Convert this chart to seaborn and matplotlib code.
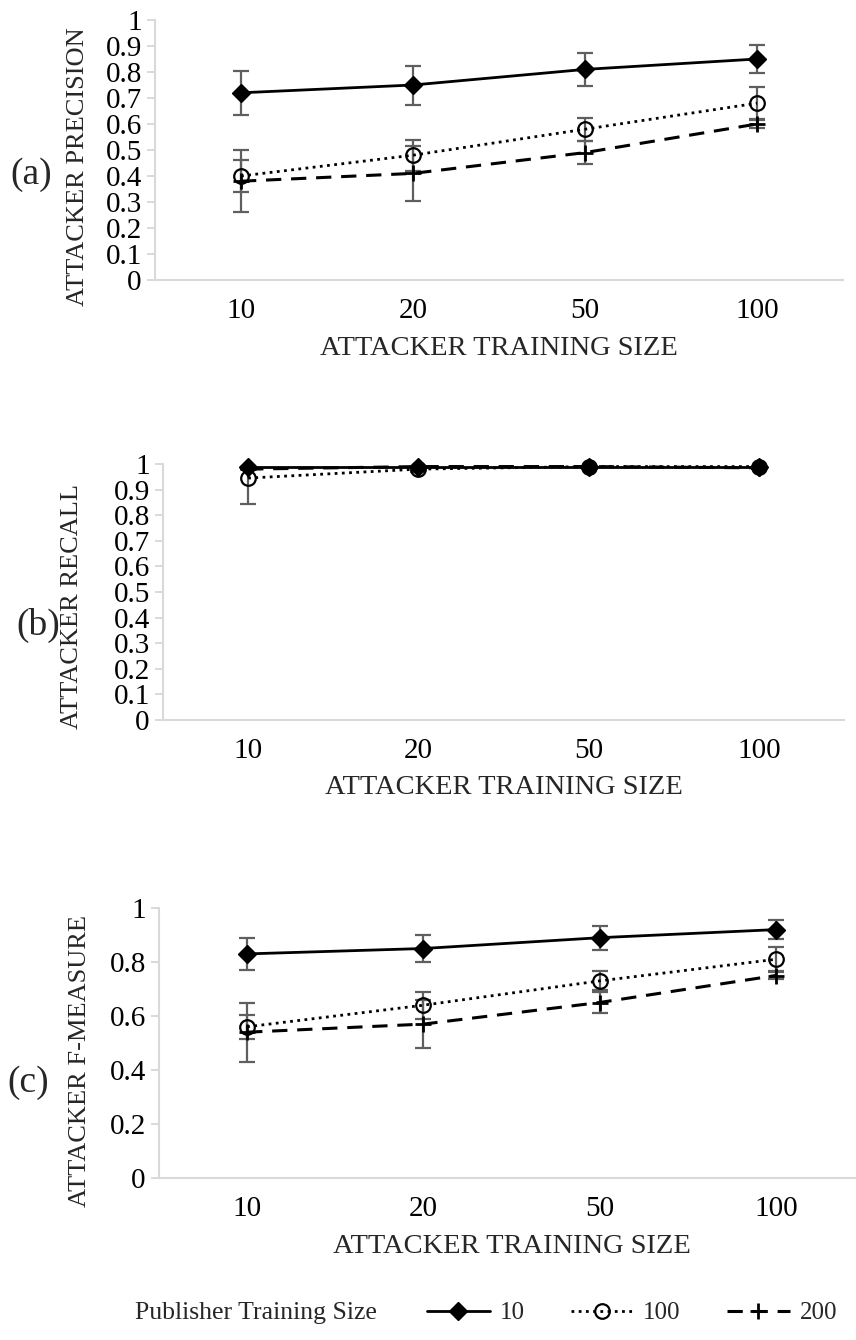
import numpy as np
import pandas as pd
import matplotlib
matplotlib.use("Agg")
import matplotlib.pyplot as plt
import seaborn as sns

# Attacker training sizes (x categories) and publisher training sizes (series)
training_sizes = ["10", "20", "50", "100"]
publisher_sizes = ["10", "100", "200"]

# (a) attacker precision: means and error bar half-widths per publisher size
precision_10 = [0.72, 0.75, 0.81, 0.85]
precision_100 = [0.40, 0.48, 0.58, 0.68]
precision_200 = [0.38, 0.41, 0.49, 0.60]
precision_err_10 = [0.085, 0.075, 0.065, 0.053]
precision_err_100 = [0.06, 0.06, 0.045, 0.062]
precision_err_200 = [0.12, 0.105, 0.045, 0.015]

# (b) attacker recall
recall_10 = [0.99, 0.99, 0.99, 0.99]
recall_100 = [0.945, 0.98, 0.99, 0.99]
recall_200 = [0.98, 0.99, 0.99, 0.985]
recall_err_10 = [0.0, 0.0, 0.0, 0.0]
recall_err_100 = [0.10, 0.01, 0.0, 0.0]
recall_err_200 = [0.0, 0.0, 0.0, 0.0]

# (c) attacker F-measure
fmeasure_10 = [0.83, 0.85, 0.89, 0.92]
fmeasure_100 = [0.56, 0.64, 0.73, 0.81]
fmeasure_200 = [0.54, 0.57, 0.65, 0.75]
fmeasure_err_10 = [0.06, 0.05, 0.045, 0.035]
fmeasure_err_100 = [0.045, 0.05, 0.035, 0.045]
fmeasure_err_200 = [0.11, 0.09, 0.04, 0.012]

ticks_fine = [0, 0.1, 0.2, 0.3, 0.4, 0.5, 0.6, 0.7, 0.8, 0.9, 1]
tick_labels_fine = ["0", "0.1", "0.2", "0.3", "0.4", "0.5", "0.6", "0.7", "0.8", "0.9", "1"]
ticks_coarse = [0, 0.2, 0.4, 0.6, 0.8, 1]
tick_labels_coarse = ["0", "0.2", "0.4", "0.6", "0.8", "1"]

sns.set_theme(style="white")
plt.rcParams["font.family"] = ["Liberation Serif", "DejaVu Serif"]

AXIS_GREY = "#d9d9d9"
ERR_GREY = "#5f5f5f"
TICK_FS = 21
YLABEL_FS = 19
XLABEL_FS = 20.5
TAG_FS = 27
LEGEND_FS = 18

series_style = {
    "10": dict(linestyle="-", linewidth=2.0, marker="D", markersize=9.5,
               markerfacecolor="black", markeredgecolor="black", markeredgewidth=1.0),
    "100": dict(linestyle=(0, (1.0, 1.6)), linewidth=2.0, marker="o", markersize=10.5,
                markerfacecolor="none", markeredgecolor="black", markeredgewidth=1.6),
    "200": dict(linestyle=(0, (5.0, 3.2)), linewidth=2.2, marker="+", markersize=12,
                markerfacecolor="black", markeredgecolor="black", markeredgewidth=2.0),
}


def draw_panel(ax, means, errs, ylabel, yticks, yticklabels, ylabel_xy, xlabel_y):
    pos = np.arange(len(training_sizes))
    handles = []
    for name, vals, err in zip(publisher_sizes, means, errs):
        df = pd.DataFrame({"pos": pos, "value": vals})
        ax.errorbar(df["pos"], df["value"], yerr=err, fmt="none", ecolor=ERR_GREY,
                    elinewidth=1.6, capsize=5.5, capthick=1.6, zorder=2)
        sns.lineplot(data=df, x="pos", y="value", ax=ax, color="black", sort=False,
                     zorder=3, clip_on=False, **series_style[name])
        handles.append(ax.lines[-1])
    ax.set_xlim(-0.5, len(training_sizes) - 0.5)
    ax.set_ylim(0, 1)
    ax.set_xticks(pos)
    ax.set_xticklabels(training_sizes, fontsize=TICK_FS)
    ax.set_yticks(yticks)
    ax.set_yticklabels(yticklabels, fontsize=TICK_FS)
    ax.tick_params(axis="x", length=0, pad=13, colors="black")
    ax.tick_params(axis="y", length=6, width=1.4, color=AXIS_GREY, pad=3.5,
                   labelcolor="black", left=True)
    for side in ("top", "right"):
        ax.spines[side].set_visible(False)
    for side in ("left", "bottom"):
        ax.spines[side].set_color(AXIS_GREY)
        ax.spines[side].set_linewidth(1.5)
    ax.grid(False)
    ax.set_ylabel(ylabel, fontsize=YLABEL_FS, va="center", ha="center")
    ax.yaxis.set_label_coords(*ylabel_xy)
    ax.set_xlabel("ATTACKER TRAINING SIZE", fontsize=XLABEL_FS, va="center")
    ax.xaxis.set_label_coords(0.5, xlabel_y)
    return handles


W, H = 856, 1340
fig = plt.figure(figsize=(W / 100, H / 100), dpi=100)

ax_a = fig.add_axes([155 / W, 1 - 280 / H, 688 / W, 260 / H])
ax_b = fig.add_axes([163 / W, 1 - 720 / H, 681 / W, 256 / H])
ax_c = fig.add_axes([159 / W, 1 - 1178 / H, 705 / W, 270 / H])

draw_panel(ax_a, [precision_10, precision_100, precision_200],
           [precision_err_10, precision_err_100, precision_err_200],
           "ATTACKER PRECISION", ticks_fine, tick_labels_fine,
           (-0.112, 0.435), -0.265)
draw_panel(ax_b, [recall_10, recall_100, recall_200],
           [recall_err_10, recall_err_100, recall_err_200],
           "ATTACKER RECALL", ticks_fine, tick_labels_fine,
           (-0.134, 0.445), -0.262)
legend_handles = draw_panel(ax_c, [fmeasure_10, fmeasure_100, fmeasure_200],
                            [fmeasure_err_10, fmeasure_err_100, fmeasure_err_200],
                            "ATTACKER F-MEASURE", ticks_coarse, tick_labels_coarse,
                            (-0.112, 0.433), -0.252)

# panel tags
fig.text(31 / W, 1 - 175 / H, "(a)", fontsize=TAG_FS, ha="center", va="center")
fig.text(38 / W, 1 - 625 / H, "(b)", fontsize=TAG_FS, ha="center", va="center")
fig.text(28 / W, 1 - 1083 / H, "(c)", fontsize=TAG_FS, ha="center", va="center")

# shared legend along the bottom
legend_y = 1 - 1313 / H
fig.text(135 / W, legend_y, "Publisher Training Size", fontsize=18.5,
         ha="left", va="center")
fig.legend(legend_handles, publisher_sizes, loc="center left",
           bbox_to_anchor=(427 / W, legend_y), ncol=3, frameon=False,
           fontsize=LEGEND_FS, handlelength=2.5, handletextpad=0.4,
           columnspacing=1.85, borderpad=0, borderaxespad=0, numpoints=1)

fig.savefig("out.png", dpi=100)
